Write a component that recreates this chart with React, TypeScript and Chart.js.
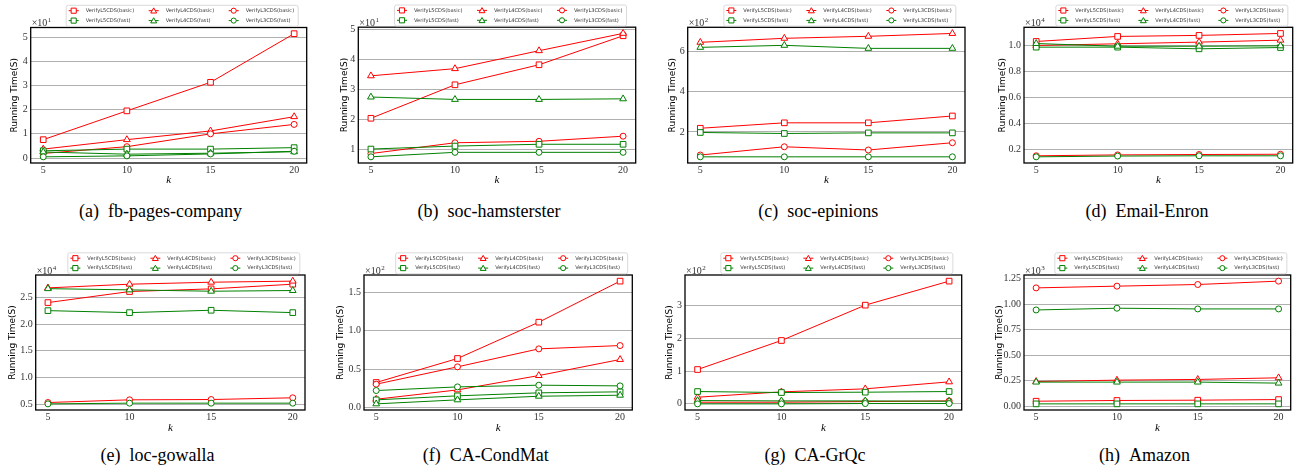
import React, { useEffect, useRef } from 'react';
import { Chart, registerables } from 'chart.js';

Chart.register(...registerables);

const RED = '#ff0000';
const GREEN = '#008000';

const K_VALUES = [5, 10, 15, 20];
const X_TICKS = [5, 10, 15, 20];

const SERIES_LABELS = [
  'VerifyL5CDS(basic)',
  'VerifyL4CDS(basic)',
  'VerifyL3CDS(basic)',
  'VerifyL5CDS(fast)',
  'VerifyL4CDS(fast)',
  'VerifyL3CDS(fast)',
];
const SERIES_COLORS = [RED, RED, RED, GREEN, GREEN, GREEN];
const SERIES_MARKERS = ['rect', 'triangle', 'circle', 'rect', 'triangle', 'circle'];

// (a) fb-pages-company  (x10^1 s)
const aL5Basic = [0.76, 1.95, 3.13, 5.14];
const aL4Basic = [0.37, 0.76, 1.12, 1.71];
const aL3Basic = [0.19, 0.47, 1.0, 1.39];
const aL5Fast = [0.3, 0.37, 0.37, 0.43];
const aL4Fast = [0.25, 0.16, 0.2, 0.26];
const aL3Fast = [0.05, 0.09, 0.17, 0.28];
const aYTicks = [0, 1, 2, 3, 4, 5];

// (b) soc-hamsterster  (x10^1 s)
const bL5Basic = [2.04, 3.16, 3.83, 4.8];
const bL4Basic = [3.46, 3.7, 4.3, 4.88];
const bL3Basic = [0.86, 1.22, 1.27, 1.44];
const bL5Fast = [1.01, 1.11, 1.17, 1.17];
const bL4Fast = [2.75, 2.67, 2.67, 2.69];
const bL3Fast = [0.75, 0.9, 0.9, 0.9];
const bYTicks = [1, 2, 3, 4, 5];

// (c) soc-epinions  (x10^2 s)
const cL5Basic = [2.18, 2.45, 2.45, 2.79];
const cL4Basic = [6.45, 6.65, 6.75, 6.89];
const cL3Basic = [0.85, 1.26, 1.1, 1.46];
const cL5Fast = [1.97, 1.92, 1.95, 1.95];
const cL4Fast = [6.2, 6.3, 6.15, 6.15];
const cL3Fast = [0.76, 0.76, 0.76, 0.76];
const cYTicks = [2, 4, 6];

// (d) Email-Enron  (x10^4 s)
const dL5Basic = [1.034, 1.073, 1.081, 1.096];
const dL4Basic = [1.003, 1.016, 1.029, 1.044];
const dL3Basic = [0.148, 0.155, 0.158, 0.16];
const dL5Fast = [0.99, 0.99, 0.977, 0.987];
const dL4Fast = [1.018, 0.997, 0.997, 1.0];
const dL3Fast = [0.14, 0.146, 0.148, 0.148];
const dYTicks = [0.2, 0.4, 0.6, 0.8, 1.0];

// (e) loc-gowalla  (x10^4 s)
const eL5Basic = [2.4, 2.606, 2.656, 2.743];
const eL4Basic = [2.674, 2.743, 2.78, 2.8];
const eL3Basic = [0.537, 0.587, 0.593, 0.625];
const eL5Fast = [2.25, 2.213, 2.257, 2.213];
const eL4Fast = [2.66, 2.637, 2.612, 2.625];
const eL3Fast = [0.512, 0.525, 0.525, 0.525];
const eYTicks = [0.5, 1.0, 1.5, 2.0, 2.5];

// (f) CA-CondMat  (x10^2 s)
const fL5Basic = [0.329, 0.64, 1.111, 1.643];
const fL4Basic = [0.112, 0.233, 0.419, 0.627];
const fL3Basic = [0.307, 0.532, 0.765, 0.808];
const fL5Fast = [0.104, 0.156, 0.195, 0.208];
const fL4Fast = [0.052, 0.104, 0.151, 0.164];
const fL3Fast = [0.225, 0.272, 0.294, 0.285];
const fYTicks = [0.0, 0.5, 1.0, 1.5];

// (g) CA-GrQc  (x10^2 s)
const gL5Basic = [1.047, 1.932, 3.01, 3.742];
const gL4Basic = [0.203, 0.366, 0.458, 0.671];
const gL3Basic = [0.05, 0.05, 0.07, 0.09];
const gL5Fast = [0.376, 0.346, 0.356, 0.376];
const gL4Fast = [0.1, 0.09, 0.09, 0.08];
const gL3Fast = [0.0, 0.0, 0.01, 0.01];
const gYTicks = [0, 1, 2, 3];

// (h) Amazon  (x10^3 s)
const hL5Basic = [0.049, 0.056, 0.059, 0.065];
const hL4Basic = [0.242, 0.255, 0.262, 0.278];
const hL3Basic = [1.158, 1.175, 1.191, 1.224];
const hL5Fast = [0.023, 0.023, 0.023, 0.023];
const hL4Fast = [0.236, 0.236, 0.236, 0.226];
const hL3Fast = [0.942, 0.959, 0.952, 0.952];
const hYTicks = [0, 0.25, 0.5, 0.75, 1.0, 1.25];

const PANELS = [
  { tag: '(a)', name: 'fb-pages-company', exponent: 1, decimals: 0, yTicks: aYTicks, series: [aL5Basic, aL4Basic, aL3Basic, aL5Fast, aL4Fast, aL3Fast] },
  { tag: '(b)', name: 'soc-hamsterster', exponent: 1, decimals: 0, yTicks: bYTicks, series: [bL5Basic, bL4Basic, bL3Basic, bL5Fast, bL4Fast, bL3Fast] },
  { tag: '(c)', name: 'soc-epinions', exponent: 2, decimals: 0, yTicks: cYTicks, series: [cL5Basic, cL4Basic, cL3Basic, cL5Fast, cL4Fast, cL3Fast] },
  { tag: '(d)', name: 'Email-Enron', exponent: 4, decimals: 1, yTicks: dYTicks, series: [dL5Basic, dL4Basic, dL3Basic, dL5Fast, dL4Fast, dL3Fast] },
  { tag: '(e)', name: 'loc-gowalla', exponent: 4, decimals: 1, yTicks: eYTicks, series: [eL5Basic, eL4Basic, eL3Basic, eL5Fast, eL4Fast, eL3Fast] },
  { tag: '(f)', name: 'CA-CondMat', exponent: 2, decimals: 1, yTicks: fYTicks, series: [fL5Basic, fL4Basic, fL3Basic, fL5Fast, fL4Fast, fL3Fast] },
  { tag: '(g)', name: 'CA-GrQc', exponent: 2, decimals: 0, yTicks: gYTicks, series: [gL5Basic, gL4Basic, gL3Basic, gL5Fast, gL4Fast, gL3Fast] },
  { tag: '(h)', name: 'Amazon', exponent: 3, decimals: 2, yTicks: hYTicks, series: [hL5Basic, hL4Basic, hL3Basic, hL5Fast, hL4Fast, hL3Fast] },
];

// Layout (page pixels): plot area [left, top, right, bottom]
const GEOMETRY = [
  { plot: [30.7, 27.5, 306.7, 163], ylabelX: 15, captionX: 160.5, row: 0 },
  { plot: [358.3, 27.2, 635.7, 163], ylabelX: 345, captionX: 489, row: 0 },
  { plot: [687.7, 27.3, 965, 163], ylabelX: 672.7, captionX: 818.3, row: 0 },
  { plot: [1024, 27.3, 1292.7, 163], ylabelX: 1002.3, captionX: 1147, row: 0 },
  { plot: [35.7, 275, 305, 410], ylabelX: 12.7, captionX: 157.5, row: 1 },
  { plot: [364, 275, 632.3, 410], ylabelX: 341, captionX: 485.8, row: 1 },
  { plot: [685, 275, 961.7, 410], ylabelX: 670, captionX: 815, row: 1 },
  { plot: [1024, 275, 1290.7, 410], ylabelX: 999.3, captionX: 1144.5, row: 1 },
];

const ROWS = [
  { top: 0, bottom: 196, kY: 180, captionTop: 201.6 },
  { top: 244, bottom: 441, kY: 427.7, captionTop: 445.6 },
];

const MARKER_RADIUS: Record<string, number> = { rect: 4, triangle: 3.9, circle: 3 };

const SERIF = '"Liberation Serif", "Times New Roman", serif';
const SANS = '"DejaVu Sans", sans-serif';

function drawMarker(ctx: CanvasRenderingContext2D, kind: string, x: number, y: number, color: string, s: number) {
  ctx.beginPath();
  if (kind === 'rect') {
    const h = 2.7 * s;
    ctx.rect(x - h, y - h, 2 * h, 2 * h);
  } else if (kind === 'triangle') {
    const r = 3.6 * s;
    for (let i = 0; i < 3; i++) {
      const a = -Math.PI / 2 + (i * 2 * Math.PI) / 3;
      const px = x + Math.cos(a) * r;
      const py = y + 0.6 + Math.sin(a) * r;
      if (i === 0) ctx.moveTo(px, py);
      else ctx.lineTo(px, py);
    }
    ctx.closePath();
  } else {
    ctx.arc(x, y, 2.7 * s, 0, Math.PI * 2);
  }
  ctx.fillStyle = '#ffffff';
  ctx.fill();
  ctx.strokeStyle = color;
  ctx.lineWidth = 1;
  ctx.stroke();
}

function Panel({ panel, geo }: { panel: any; geo: any }) {
  const ref = useRef<HTMLCanvasElement>(null);
  const [L, T, R, B] = geo.plot;
  const rowM = ROWS[geo.row];
  const cLeft = Math.floor(geo.ylabelX - 8);
  const cRight = Math.min(Math.ceil(R + 6), 1299);
  const cTop = rowM.top;
  const cBottom = rowM.bottom;
  const w = cRight - cLeft;
  const h = cBottom - cTop;

  useEffect(() => {
    if (!ref.current) return;
    const all: number[] = panel.series.flat();
    const lo = Math.min(...all);
    const hi = Math.max(...all);
    const span = hi - lo;

    const datasets = panel.series.map((vals: number[], i: number) => ({
      label: SERIES_LABELS[i],
      data: K_VALUES.map((k, j) => ({ x: k, y: vals[j] })),
      borderColor: SERIES_COLORS[i],
      backgroundColor: '#ffffff',
      borderWidth: 1,
      pointStyle: SERIES_MARKERS[i],
      pointRadius: MARKER_RADIUS[SERIES_MARKERS[i]],
      pointBorderWidth: 1,
      pointBackgroundColor: '#ffffff',
      pointBorderColor: SERIES_COLORS[i],
      tension: 0,
      fill: false,
      order: 5 - i,
    }));

    const overlay = {
      id: 'mplOverlay',
      afterDatasetsDraw(chart: any) {
        const { ctx, chartArea: ca } = chart;
        ctx.save();
        ctx.strokeStyle = '#000000';
        ctx.lineWidth = 1.3;
        ctx.strokeRect(ca.left, ca.top, ca.right - ca.left, ca.bottom - ca.top);
        ctx.restore();
      },
      afterDraw(chart: any) {
        const { ctx, chartArea: ca } = chart;
        ctx.save();
        // offset text (scientific multiplier)
        ctx.fillStyle = '#333333';
        ctx.textAlign = 'left';
        ctx.textBaseline = 'alphabetic';
        ctx.font = `10px ${SERIF}`;
        const base = '\u00d710';
        ctx.fillText(base, ca.left + 1, ca.top - 1.5);
        const bw = ctx.measureText(base).width;
        ctx.font = `7px ${SERIF}`;
        ctx.fillText(String(panel.exponent), ca.left + 1.5 + bw, ca.top - 5.5);

        // legend
        const lw = 232;
        const lh = 21;
        const lx = (ca.left + ca.right) / 2 + 13.5 - lw / 2;
        const ly = ca.top - 1.2 - lh;
        const rr = 2;
        ctx.beginPath();
        ctx.moveTo(lx + rr, ly);
        ctx.lineTo(lx + lw - rr, ly);
        ctx.arcTo(lx + lw, ly, lx + lw, ly + rr, rr);
        ctx.lineTo(lx + lw, ly + lh - rr);
        ctx.arcTo(lx + lw, ly + lh, lx + lw - rr, ly + lh, rr);
        ctx.lineTo(lx + rr, ly + lh);
        ctx.arcTo(lx, ly + lh, lx, ly + lh - rr, rr);
        ctx.lineTo(lx, ly + rr);
        ctx.arcTo(lx, ly, lx + rr, ly, rr);
        ctx.closePath();
        ctx.fillStyle = 'rgba(255,255,255,0.85)';
        ctx.fill();
        ctx.strokeStyle = '#d0d0d0';
        ctx.lineWidth = 0.8;
        ctx.stroke();

        ctx.font = `5.1px ${SANS}`;
        ctx.textBaseline = 'middle';
        for (let i = 0; i < SERIES_LABELS.length; i++) {
          const col = i % 3;
          const row = Math.floor(i / 3);
          const tx = lx + 19.5 + col * 80;
          const cy = ly + 5.4 + row * 9.9;
          const mx = tx - 12;
          ctx.beginPath();
          ctx.moveTo(mx - 5, cy);
          ctx.lineTo(mx + 5, cy);
          ctx.strokeStyle = SERIES_COLORS[i];
          ctx.lineWidth = 1;
          ctx.stroke();
          drawMarker(ctx, SERIES_MARKERS[i], mx, cy, SERIES_COLORS[i], 0.95);
          ctx.fillStyle = '#333333';
          ctx.fillText(SERIES_LABELS[i], tx, cy);
        }
        ctx.restore();
      },
    };

    const chart = new Chart(ref.current, {
      type: 'line',
      data: { datasets },
      options: {
        animation: false,
        responsive: false,
        devicePixelRatio: 1,
        events: [],
        layout: { padding: { left: 0, top: T - cTop, right: cRight - R, bottom: 0 } },
        plugins: { legend: { display: false }, tooltip: { enabled: false }, title: { display: false } },
        scales: {
          x: {
            type: 'linear',
            min: 4.25,
            max: 20.75,
            afterBuildTicks: (s: any) => {
              s.ticks = X_TICKS.map((v) => ({ value: v }));
            },
            afterFit: (s: any) => {
              s.height = cBottom - B;
            },
            grid: { display: false, drawTicks: false },
            border: { display: false },
            ticks: {
              padding: 1,
              autoSkip: false,
              maxRotation: 0,
              color: '#333333',
              font: { family: SERIF, size: 10 },
              callback: (v: any) => String(v),
            },
            title: {
              display: true,
              text: 'k',
              color: '#000000',
              font: { family: SERIF, size: 11, style: 'italic' },
              padding: { top: 0, bottom: h - (rowM.kY - cTop) - 6.6 },
            },
          },
          y: {
            type: 'linear',
            min: lo - 0.05 * span,
            max: hi + 0.05 * span,
            afterBuildTicks: (s: any) => {
              s.ticks = panel.yTicks.map((v: number) => ({ value: v }));
            },
            afterFit: (s: any) => {
              s.width = L - cLeft;
            },
            grid: { display: true, drawTicks: false, color: '#b0b0b0', lineWidth: 1 },
            border: { display: false },
            ticks: {
              padding: 3,
              autoSkip: false,
              color: '#333333',
              font: { family: SERIF, size: 10 },
              callback: (v: any) => Number(v).toFixed(panel.decimals),
            },
            title: {
              display: true,
              text: 'Running Time(S)',
              color: '#000000',
              font: { family: SANS, size: 9 },
              padding: { top: geo.ylabelX - cLeft - 5.4, bottom: 0 },
            },
          },
        },
      } as any,
      plugins: [overlay],
    });
    return () => chart.destroy();
  }, []);

  return (
    <>
      <canvas
        ref={ref}
        width={w}
        height={h}
        style={{ position: 'absolute', left: cLeft, top: cTop, width: w, height: h }}
      />
      <div
        style={{
          position: 'absolute',
          left: geo.captionX - 150,
          top: rowM.captionTop,
          width: 300,
          textAlign: 'center',
          font: `18px/18px ${SERIF}`,
          whiteSpace: 'nowrap',
          color: '#000',
        }}
      >
        {panel.tag + '\u2002' + panel.name}
      </div>
    </>
  );
}

export default function App() {
  return (
    <div style={{ position: 'absolute', left: 0, top: 0, width: 1299, height: 472, background: '#fff', overflow: 'hidden' }}>
      {PANELS.map((p, i) => (
        <Panel key={i} panel={p} geo={GEOMETRY[i]} />
      ))}
    </div>
  );
}
